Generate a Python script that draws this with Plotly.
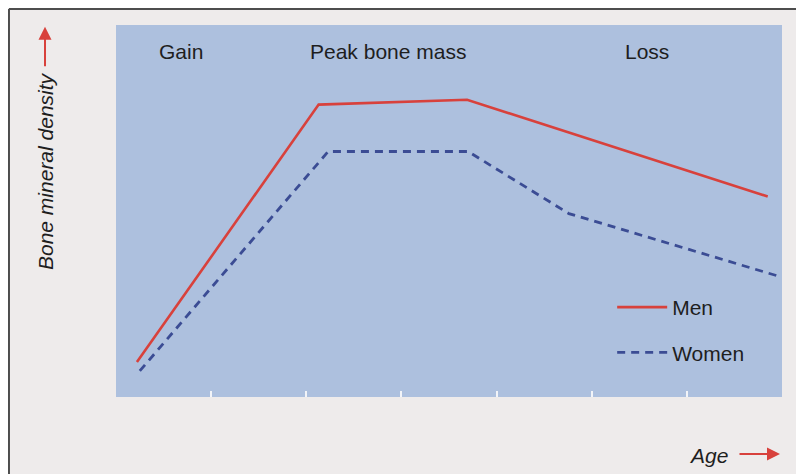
import plotly.graph_objects as go

# Data (conceptual: x = life stage position, y = relative bone mineral density)
men_x = [0.22, 2.13, 3.69, 6.85]
men_y = [9.4, 78.6, 79.9, 53.9]
women_x = [0.25, 2.23, 3.70, 4.76, 7.0]
women_y = [7.0, 66.0, 66.0, 49.3, 32.2]
phase_labels = ["Gain", "Peak bone mass", "Loss"]
phase_x = [0.68, 2.86, 5.58]
tick_positions = [1, 2, 3, 4, 5, 6]

PLOT_BG = "#adc0de"
PAPER_BG = "#eeebeb"
RED = "#d8413c"
NAVY = "#3b4c94"
FONT = "Liberation Sans, Arial, sans-serif"
TXT = "#1e1e1e"

fig = go.Figure()
fig.add_trace(go.Scatter(x=men_x, y=men_y, mode="lines", name="Men",
                         line=dict(color=RED, width=2.6), legendgroup="m"))
fig.add_trace(go.Scatter(x=women_x, y=women_y, mode="lines", name="Women",
                         line=dict(color=NAVY, width=2.8, dash="8px,6px"), legendgroup="w"))

for lab, px in zip(phase_labels, phase_x):
    fig.add_annotation(x=px, y=93, xref="x", yref="y", text=lab, showarrow=False,
                       font=dict(size=21, color=TXT, family=FONT))

# Axis titles with arrows
fig.add_annotation(xref="paper", yref="paper", x=-0.1066, y=0.6075, xanchor="center", yanchor="middle",
                   text="<i>Bone mineral density</i>", textangle=-90, showarrow=False,
                   font=dict(size=21, color=TXT, family=FONT))
fig.add_annotation(xref="paper", yref="paper", x=-0.1066, y=0.995, ax=0, ay=41,
                   text="", showarrow=True, arrowhead=2, arrowsize=1.3, arrowwidth=2, arrowcolor=RED)
fig.add_annotation(xref="paper", yref="paper", x=0.890, y=-0.156, xanchor="center", yanchor="middle",
                   text="<i>Age</i>", showarrow=False, font=dict(size=21, color=TXT, family=FONT))
fig.add_annotation(xref="paper", yref="paper", x=0.997, y=-0.153, ax=-42, ay=0,
                   text="", showarrow=True, arrowhead=2, arrowsize=1.3, arrowwidth=2, arrowcolor=RED)

# Frame lines (top and left)
fig.add_shape(type="line", xref="paper", yref="paper", x0=-0.1607, x1=1.05, y0=1.043, y1=1.043,
              line=dict(color="#4d4d4d", width=2))
fig.add_shape(type="line", xref="paper", yref="paper", x0=-0.1607, x1=-0.1607, y0=1.043, y1=-0.22,
              line=dict(color="#4d4d4d", width=2))

fig.update_layout(
    width=796, height=466,
    margin=dict(l=108, r=22, t=17, b=77),
    paper_bgcolor=PAPER_BG, plot_bgcolor=PLOT_BG,
    font=dict(family=FONT, size=21, color=TXT),
    showlegend=True,
    legend=dict(x=0.745, y=0.2957, xanchor="left", yanchor="top", bgcolor="rgba(0,0,0,0)",
                itemwidth=50, tracegroupgap=15, font=dict(size=21, family=FONT, color=TXT)),
    xaxis=dict(range=[0, 7], tickvals=tick_positions, ticks="inside", ticklen=6, tickwidth=1.5,
               tickcolor="#f2f4f8", showticklabels=False, showgrid=False, zeroline=False, showline=False,
               fixedrange=True),
    yaxis=dict(range=[0, 100], showticklabels=False, ticks="", showgrid=False, zeroline=False,
               showline=False, fixedrange=True),
)

fig.write_html("out.html")
